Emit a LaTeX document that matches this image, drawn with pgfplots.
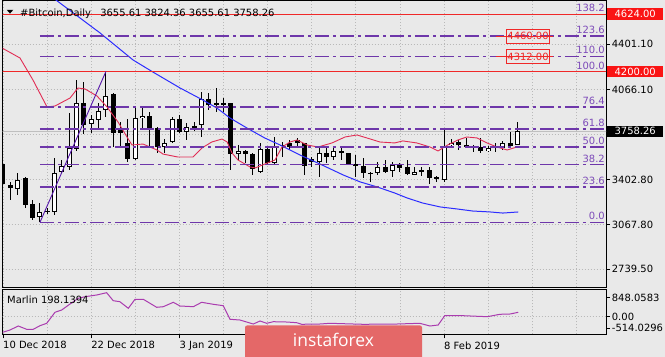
\documentclass[border=0pt]{standalone}
\usepackage{pgfplots}
\pgfplotsset{compat=1.18}
\usepackage{pgfplotstable}
\usepackage{fontspec}
\setmainfont{DejaVu Sans}
\newfontfamily\wmfont{Open Sans}
\newcommand\lbl{\fontsize{10}{12}\selectfont}
\definecolor{bg}{RGB}{233,233,233}
\definecolor{gridc}{RGB}{185,185,185}
\definecolor{fibc}{RGB}{110,55,170}
\definecolor{fibt}{RGB}{125,75,185}
\definecolor{lvlred}{RGB}{240,40,40}
\definecolor{boxred}{RGB}{250,20,20}
\definecolor{mared}{RGB}{225,45,85}
\definecolor{blueline}{RGB}{45,45,255}
\definecolor{marlinc}{RGB}{170,60,175}
\definecolor{wm}{RGB}{228,104,104}
\definecolor{diagc}{RGB}{85,20,170}

\pgfplotstableread{
d o h l c
0 3520 3550 3350 3370
1 3361 3384 3250 3339
2 3329 3447 3286 3401
3 3411 3418 3189 3213
4 3221 3250 3100 3115
5 3127 3226 3085 3164
6 3170 3195 3150 3163
7 3160 3559 3140 3452
8 3460 3546 3448 3502
9 3492 3891 3472 3633
10 3625 4137 3615 3965
11 3965 4125 3738 3805
12 3810 3879 3743 3847
13 3842 3965 3780 3910
14 3916 4200 3866 4019
15 4032 4039 3640 3748
16 3768 3829 3640 3743
17 3669 3847 3534 3551
18 3551 3940 3546 3854
19 3854 3928 3768 3871
20 3871 3903 3640 3780
21 3780 3792 3595 3640
22 3640 3699 3595 3674
23 3681 3866 3669 3847
24 3847 3879 3743 3755
25 3755 3817 3694 3792
26 3797 3829 3762 3790
27 3805 4051 3714 3995
28 3995 4039 3916 3953
29 3965 4076 3903 3958
30 3965 4002 3903 3958
31 3965 3970 3472 3590
32 3590 3657 3546 3615
33 3615 3620 3526 3590
34 3590 3600 3435 3478
35 3460 3674 3448 3625
36 3625 3640 3509 3522
37 3522 3718 3516 3640
38 3657 3681 3570 3650
39 3669 3694 3620 3640
40 3694 3706 3640 3669
41 3669 3674 3435 3502
42 3550 3570 3497 3534
43 3534 3645 3423 3595
44 3600 3640 3526 3566
45 3571 3640 3546 3615
46 3615 3632 3546 3595
47 3595 3600 3509 3516
48 3516 3583 3423 3502
49 3502 3559 3411 3452
50 3452 3460 3386 3445
51 3448 3534 3435 3492
52 3492 3546 3448 3460
53 3467 3534 3423 3509
54 3509 3522 3460 3484
55 3492 3546 3435 3443
56 3435 3492 3435 3460
57 3470 3492 3430 3463
58 3472 3492 3369 3411
59 3418 3428 3386 3403
60 3398 3768 3386 3650
61 3657 3699 3640 3674
62 3681 3694 3620 3657
63 3657 3710 3632 3640
64 3645 3657 3607 3638
65 3645 3706 3600 3615
66 3615 3650 3607 3632
67 3643 3674 3607 3636
68 3632 3690 3620 3669
69 3669 3755 3640 3650
70 3655.61 3824.36 3655.61 3758.26
}\candles

\pgfplotstableread{
d v
-0.04 4371
2.31 4300
4.08 4137
5.99 3938
7.07 3945
9.12 4004
10.2 4078
11.16 4071
12.79 4019
14.15 3938
15.65 3827
16.87 3716
17.55 3657
19.05 3664
20.95 3620
21.77 3590
23.8 3568
25.85 3568
27.07 3635
28.4 3679
29.8 3701
30.5 3679
31.16 3598
31.97 3546
33.6 3495
34.3 3487
35.65 3517
37.0 3546
37.96 3642
39.05 3679
40.0 3694
41.36 3657
42.86 3642
44.76 3672
46.53 3716
48.16 3731
49.5 3709
51.29 3679
53.3 3672
54.4 3687
56.3 3672
58.1 3642
59.2 3613
60.5 3657
61.9 3694
63.1 3716
64.5 3709
65.85 3672
67.2 3642
68.6 3620
69.9 3642
}\maline

\pgfplotstableread{
d v
6.5 4757
7.76 4706
13.2 4485
17.7 4285
20.4 4196
24.1 4078
27.2 3989
29.1 3930
30.9 3856
33.2 3782
35.6 3709
37.7 3657
40.4 3583
43.1 3517
46.3 3435
48.6 3384
50.9 3347
53.3 3302
55.0 3265
57.1 3228
59.5 3199
61.8 3184
63.9 3169
66.3 3162
68.0 3154
70.1 3162
}\blue

\pgfplotstableread{
d v
-0.04 -702
0.95 -599
2.08 -419
3.22 -567
4.12 -567
5.03 -405
5.95 -297
7.07 198
7.99 302
9.12 572
10.24 828
11.16 900
12.75 977
14.1 1080
15.0 720
15.9 675
17.05 378
17.96 783
19.09 783
20.91 423
21.81 450
23.17 648
24.08 482
25.89 450
27.03 648
28.61 558
29.97 495
30.88 -117
32.24 -149
34.05 -329
34.97 -194
35.88 -297
36.78 -225
38.6 -239
39.96 -270
40.64 -342
43.1 -329
44.5 -297
49.0 -342
53.6 -329
56.7 -297
58.1 -419
59.2 -374
60.1 45
62.6 45
65.9 0
67.6 108
69.0 122
70.1 198
}\marlin

\begin{document}
\begin{tikzpicture}
\fill[bg] (0bp,0bp) rectangle (665bp,357bp);
\path[use as bounding box] (0bp,0bp) rectangle (665bp,357bp);

\begin{axis}[
  name=main,
  at={(2.7bp,70bp)}, anchor=south west, scale only axis,
  width=603.3bp, height=286.5bp,
  xmin=-0.04, xmax=82.04, ymin=2607.5, ymax=4724.8,
  clip mode=individual,
  axis line style={black, line width=0.8bp},
  grid style={gridc, dash pattern=on 1bp off 2bp, line width=0.7bp},
  xtick={0,6,...,78}, xticklabels={}, xtick style={draw=none}, xmajorgrids,
  ytick={2739.5,3067.8,3402.8,3734,4066.1,4401.1},
  yticklabels={2739.50,3067.80,3402.80,{},4066.10,4401.10},
  ymajorgrids, ytick pos=right, yticklabel pos=right,
  tick align=outside, major tick length=4bp,
  ytick style={black, line width=0.8bp},
  yticklabel style={anchor=west, inner sep=0pt, xshift=1.7bp, font=\lbl},
]
\addplot[black!25, line width=0.8bp, forget plot] coordinates {(-1,3758.26) (90,3758.26)};

\addplot[draw=none, mark=none, forget plot,
  error bars/.cd, y dir=both, y explicit, error mark=none,
  error bar style={draw=black, line width=1bp}]
  table[x=d, y expr={(\thisrow{h}+\thisrow{l})/2}, y error expr={(\thisrow{h}-\thisrow{l})/2}] {\candles};
\addplot[draw=none, mark=none, forget plot,
  error bars/.cd, y dir=both, y explicit, error mark=none,
  error bar style={draw=black, line width=5bp}]
  table[x=d, y expr={(\thisrow{o}+\thisrow{c})/2}, y error expr={max(abs(\thisrow{c}-\thisrow{o})/2,3.7)}] {\candles};
\addplot[draw=none, mark=none, forget plot,
  error bars/.cd, y dir=both, y explicit, error mark=none,
  error bar style={draw=white, line width=3bp}]
  table[x=d, y expr={(\thisrow{o}+\thisrow{c})/2}, y error expr={max((\thisrow{c}-\thisrow{o})/2-7.4,0)}] {\candles};

\addplot[mared, line width=0.9bp, forget plot] table[x=d, y=v] {\maline};
\addplot[blueline, line width=1bp, forget plot] table[x=d, y=v] {\blue};

\foreach \lv in {3085,3348,3511,3642.5,3774,3937,4311.5,4463} {
  \edef\tmp{\noexpand\addplot[fibc, line width=1.5bp, dash pattern=on 14bp off 4bp on 3bp off 4bp, forget plot] coordinates {(5.03,\lv) (83,\lv)};}
  \tmp
}
\addplot[lvlred, line width=1bp, forget plot] coordinates {(-1,4624) (90,4624)};
\addplot[lvlred, line width=1bp, forget plot] coordinates {(-1,4200) (90,4200)};
\addplot[diagc, line width=0.9bp, forget plot] coordinates {(5.03,3085) (14,4200)};
\addplot[lvlred, line width=0.8bp, forget plot] coordinates {(67.07,4460) (74.83,4460)};
\addplot[lvlred, line width=0.8bp, forget plot] coordinates {(67.07,4311.5) (74.83,4311.5)};

\foreach \lv/\tx in {3085/0.0,3348/23.6,3511/38.2,3642.5/50.0,3774/61.8,3937/76.4,4200/100.0,4311.5/110.0,4463/123.6,4626/138.2} {
  \edef\tmp{\noexpand\node[anchor=base east, inner sep=0pt, text=fibt, font=\noexpand\lbl, yshift=2.5bp] at (axis cs:81.9,\lv) {\tx};}
  \tmp
}
\node[draw=lvlred, line width=0.7bp, text=lvlred, inner xsep=0.8bp, inner ysep=3bp, font=\lbl] at (axis cs:71.43,4460) {4460.00};
\node[draw=lvlred, line width=0.7bp, text=lvlred, inner xsep=0.8bp, inner ysep=3bp, font=\lbl] at (axis cs:71.43,4311.5) {4312.00};
\node[anchor=west, fill=boxred, text=white, minimum width=56bp, inner ysep=2bp, font=\lbl, xshift=1bp] at (axis cs:82.04,4624) {4624.00};
\node[anchor=west, fill=boxred, text=white, minimum width=56bp, inner ysep=2bp, font=\lbl, xshift=1bp] at (axis cs:82.04,4200) {4200.00};
\node[anchor=west, fill=black, text=white, minimum width=56bp, inner ysep=2bp, font=\lbl, xshift=1bp] at (axis cs:82.04,3758.26) {3758.26};
\end{axis}

\begin{axis}[
  name=panel,
  at={(2.7bp,22.7bp)}, anchor=south west, scale only axis,
  width=603.3bp, height=45bp,
  xmin=-0.04, xmax=82.04, ymin=-792, ymax=1233,
  axis line style={black, line width=0.8bp},
  grid style={gridc, dash pattern=on 1bp off 2bp, line width=0.7bp},
  xtick={0,12,24,36,48,60},
  xticklabels={10 Dec 2018,22 Dec 2018,3 Jan 2019,{},{},8 Feb 2019},
  minor xtick={6,18,30,42,54,66,72,78},
  xmajorgrids, xminorgrids, minor tick length=0pt,
  xtick pos=bottom,
  ytick={-514.0296,0,848.0583},
  yticklabels={-514.0296,0.00,848.0583},
  ytick pos=right, yticklabel pos=right,
  tick align=outside, major tick length=4bp,
  tick style={black, line width=0.8bp},
  yticklabel style={anchor=west, inner sep=0pt, xshift=1.7bp, font=\lbl},
  xticklabel style={anchor=north west, inner sep=0pt, yshift=-3bp, font=\lbl},
]
\addplot[gridc, dash pattern=on 1bp off 2bp, line width=0.7bp, forget plot] coordinates {(-1,0) (90,0)};
\addplot[marlinc, line width=1bp, forget plot] table[x=d, y=v] {\marlin};
\end{axis}

\fill[black] (6.7bp,347.2bp) -- (13.3bp,347.2bp) -- (10bp,343.4bp) -- cycle;
\node[anchor=base west, inner sep=0pt, font=\lbl] at (20bp,340.5bp) {\#Bitcoin,Daily\hspace{6bp} 3655.61 3824.36 3655.61 3758.26};
\node[anchor=base west, inner sep=0pt, font=\lbl] at (7bp,53.5bp) {Marlin 198.1394};

\fill[wm, rounded corners=2bp] (245bp,-5bp) rectangle (422bp,31.5bp);
\node[anchor=base, inner sep=0pt, text=white, font=\wmfont\fontsize{17.5}{20}\selectfont] at (333.5bp,10.3bp) {instaforex};
\end{tikzpicture}
\end{document}
